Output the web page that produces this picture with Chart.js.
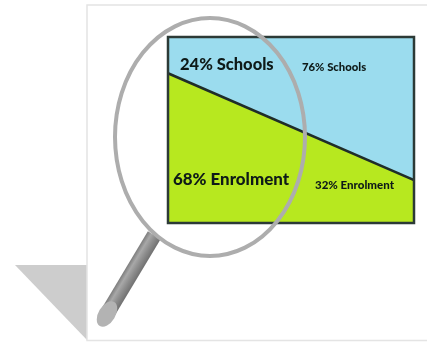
<!DOCTYPE html>
<html>
<head>
<meta charset="utf-8">
<title>Schools and enrolment</title>
<script src="https://cdn.jsdelivr.net/npm/chart.js@4"></script>
<style>
  html, body { margin: 0; background: #fff; }
  canvas { display: block; }
</style>
</head>
<body>
<canvas id="split-chart" width="427" height="342"></canvas>
<script>
const schoolsAxis = [0, 100];
const dividerValues = [80.5, 23];
const topValues = [100, 100];
const regionLabels = ["24% Schools", "76% Schools", "68% Enrolment", "32% Enrolment"];

// page card, its cast shadow and the magnifier handle sit behind the plot
const backdrop = {
  id: "backdrop",
  beforeDraw(chart) {
    const c = chart.ctx;
    c.save();
    c.fillStyle = "#ffffff";
    c.fillRect(0, 0, 427, 342);

    c.fillStyle = "#cdcdcd";
    c.beginPath();
    c.moveTo(15, 265);
    c.lineTo(87, 265);
    c.lineTo(87, 340);
    c.closePath();
    c.fill();

    c.strokeStyle = "#e4e4e4";
    c.lineWidth = 1.5;
    c.beginPath();
    c.moveTo(427, 5);
    c.lineTo(87, 5);
    c.lineTo(87, 340.5);
    c.lineTo(427, 340.5);
    c.stroke();

    // handle is drawn in its own rotated frame so the shading runs across it
    c.translate(107, 314);
    c.rotate(0.54);
    const g = c.createLinearGradient(-8, 0, 8, 0);
    g.addColorStop(0, "#777777");
    g.addColorStop(0.3, "#a8a8a8");
    g.addColorStop(0.6, "#8e8e8e");
    g.addColorStop(1, "#6e6e6e");
    c.fillStyle = g;
    c.fillRect(-7.5, -92, 15, 92);
    c.fillStyle = "#b3b3b3";
    c.beginPath();
    c.ellipse(0, 0, 8.5, 14, 0, 0, Math.PI * 2);
    c.fill();
    c.restore();
  }
};

// plot frame, region labels and the lens ring go over the fills
const overlay = {
  id: "overlay",
  afterDraw(chart) {
    const c = chart.ctx;
    const a = chart.chartArea;
    c.save();
    c.strokeStyle = "#2c3a36";
    c.lineWidth = 2.5;
    c.strokeRect(a.left, a.top, a.right - a.left, a.bottom - a.top);

    c.fillStyle = "#0e1a18";
    c.textBaseline = "middle";
    c.textAlign = "left";
    c.font = "900 16.5px Lato";
    c.fillText(regionLabels[0], 180, 65);
    c.font = "900 16.9px Lato";
    c.fillText(regionLabels[2], 173, 180);
    c.font = "900 11.3px Lato";
    c.fillText(regionLabels[1], 302, 67);
    c.font = "900 11.5px Lato";
    c.fillText(regionLabels[3], 315, 185);

    c.strokeStyle = "#adadad";
    c.lineWidth = 4;
    c.beginPath();
    c.ellipse(210, 137, 95, 119, 0, 0, Math.PI * 2);
    c.stroke();
    c.restore();
  }
};

new Chart(document.getElementById("split-chart"), {
  type: "line",
  data: {
    labels: schoolsAxis,
    datasets: [{
      data: dividerValues,
      borderColor: "#1f2d29",
      borderWidth: 2.5,
      backgroundColor: "#b7e81f",
      pointRadius: 0,
      tension: 0,
      fill: "origin"
    }, {
      data: topValues,
      borderWidth: 0,
      borderColor: "transparent",
      backgroundColor: "#9bdcee",
      pointRadius: 0,
      tension: 0,
      fill: "-1"
    }]
  },
  options: {
    responsive: false,
    animation: false,
    events: [],
    layout: { padding: { left: 168, top: 37, right: 13, bottom: 119 } },
    plugins: {
      legend: { display: false },
      title: { display: false },
      tooltip: { enabled: false }
    },
    scales: {
      x: { type: "linear", display: false, min: 0, max: 100 },
      y: { display: false, min: 0, max: 100 }
    }
  },
  plugins: [backdrop, overlay]
});
</script>
</body>
</html>
